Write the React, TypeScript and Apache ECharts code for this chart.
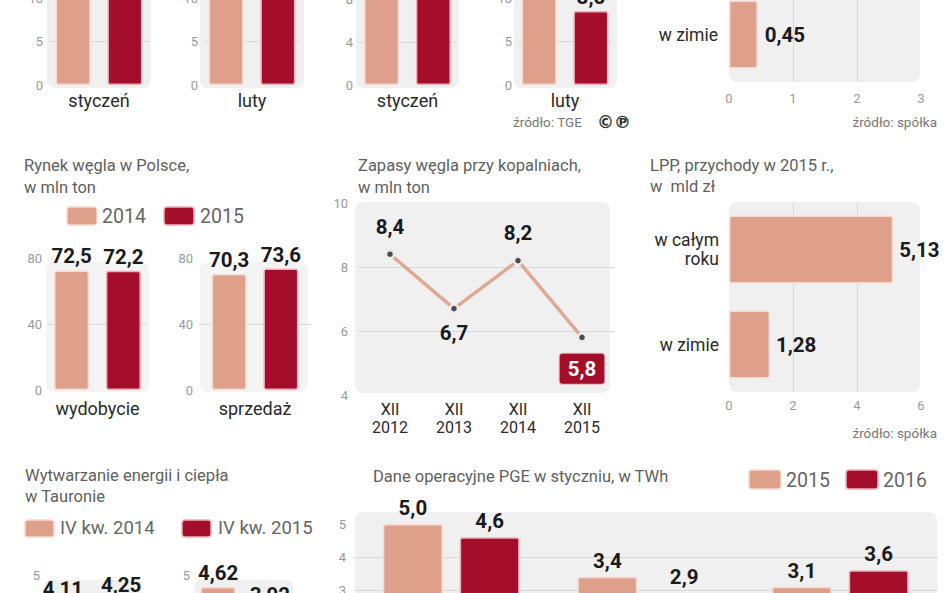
import React, { useEffect, useRef } from "react";
import * as echarts from "echarts";

// ---------- data ----------
// top-left panel (values above the visible area are estimated)
const tlCats = ["styczeń", "luty"];
const tlPrev = [12.6, 12.2];
const tlCurr = [13.4, 12.8];

// top-middle panel
const tmCats = ["styczeń", "luty"];
const tmPrev = [9.8, 12.1];
const tmCurr = [10.6, 8.5];

// top-right panel
const trCats = ["w zimie"];
const trValues = [0.45];

// Rynek węgla w Polsce, w mln ton
const coalCats = ["wydobycie", "sprzedaż"];
const coalYears = ["2014", "2015"];
const coal2014 = [72.5, 70.3];
const coal2015 = [72.2, 73.6];

// Zapasy węgla przy kopalniach, w mln ton
const stockCats = ["XII\n2012", "XII\n2013", "XII\n2014", "XII\n2015"];
const stockValues = [8.4, 6.7, 8.2, 5.8];

// LPP, przychody w 2015 r., w mld zł
const lppCats = ["w całym\nroku", "w zimie"];
const lppValues = [5.13, 1.28];

// Wytwarzanie energii i ciepła w Tauronie
const tauronSeries = ["IV kw. 2014", "IV kw. 2015"];
const tauronCats = ["a", "b"];
const tauron2014 = [4.11, 4.62];
const tauron2015 = [4.25, 3.92];

// Dane operacyjne PGE w styczniu, w TWh
const pgeYears = ["2015", "2016"];
const pgeCats = ["a", "b", "c"];
const pge2015 = [5.0, 3.4, 3.1];
const pge2016 = [4.6, 2.9, 3.6];

// ---------- styles ----------
const SANS = 'Roboto, "Noto Sans", "DejaVu Sans", sans-serif';
const BOLD = 'Roboto, "Noto Sans", sans-serif';
const LIGHT = "#dea08a";
const DARK = "#a50e2a";
const LIGHT_BORDER = "#f6d9cf";
const DARK_BORDER = "#ebb0b8";
const PANEL = "#f0f0f1";
const GRID_LINE = "#d9d9d9";
const TICK = "#9a9a9a";
const CAT = "#2a2a2a";
const VAL = "#1a1a1a";
const TITLE = "#5f5f5f";
const VAL_SIZE = 20.5;

const fmt = (v: number, d: number) => v.toFixed(d).replace(".", ",");

function splitColors(n: number) {
  const arr: string[] = [];
  for (let k = 0; k < n; k++) arr.push(k === 0 || k === n - 1 ? "rgba(0,0,0,0)" : GRID_LINE);
  return arr;
}

function buildOption() {
  const grids: any[] = [];
  const xAxes: any[] = [];
  const yAxes: any[] = [];
  const series: any[] = [];

  const gridBox = (left: number, top: number, width: number, height: number) => ({
    left, top, width, height, containLabel: false, outerBoundsMode: "none",
  });

  const barLabel = (dec: number, show: boolean, pos = "top", dist = 3) => ({
    show,
    position: pos,
    distance: dist,
    fontFamily: BOLD,
    fontWeight: "bold",
    fontSize: VAL_SIZE,
    lineHeight: 22,
    color: VAL,
    formatter: (p: any) => fmt(p.value, dec),
  });

  function addV(g: {
    left: number; width: number; top: number; height: number; max: number; interval: number;
    cat: string; showCat: boolean; catMargin: number; a: number; b: number; dec: number; gap: string;
    names: string[]; showLabel: boolean;
  }) {
    const i = grids.length;
    grids.push(gridBox(g.left, g.top, g.width, g.height));
    xAxes.push({
      type: "category", gridIndex: i, data: [g.cat],
      axisLine: { show: false }, axisTick: { show: false },
      axisLabel: { show: g.showCat, margin: g.catMargin, fontSize: 18, color: CAT, fontFamily: SANS },
    });
    const n = Math.round(g.max / g.interval) + 1;
    yAxes.push({
      type: "value", gridIndex: i, min: 0, max: g.max, interval: g.interval,
      axisLine: { show: false }, axisTick: { show: false },
      axisLabel: { margin: 6, fontSize: 13, color: TICK, fontFamily: SANS },
      splitLine: { show: true, lineStyle: { color: splitColors(n), width: 1 } },
    });
    series.push({
      type: "bar", name: g.names[0], xAxisIndex: i, yAxisIndex: i, data: [g.a],
      barWidth: 35, barGap: g.gap,
      itemStyle: { color: LIGHT, borderColor: LIGHT_BORDER, borderWidth: 1.5, borderRadius: 2 },
      label: barLabel(g.dec, g.showLabel),
    });
    series.push({
      type: "bar", name: g.names[1], xAxisIndex: i, yAxisIndex: i, data: [g.b],
      barWidth: 35, barGap: g.gap,
      itemStyle: { color: DARK, borderColor: DARK_BORDER, borderWidth: 1.5, borderRadius: 2 },
      label: barLabel(g.dec, g.showLabel),
    });
  }

  // top-left
  addV({ left: 49, width: 100, top: -45.5, height: 130.5, max: 15, interval: 5, cat: tlCats[0], showCat: true, catMargin: 6, a: tlPrev[0], b: tlCurr[0], dec: 1, gap: "48%", names: ["poprzedni", "bieżący"], showLabel: true });
  addV({ left: 204, width: 96, top: -45.5, height: 130.5, max: 15, interval: 5, cat: tlCats[1], showCat: true, catMargin: 6, a: tlPrev[1], b: tlCurr[1], dec: 1, gap: "48%", names: ["poprzedni", "bieżący"], showLabel: true });
  // top-middle
  addV({ left: 359, width: 97, top: -44, height: 129, max: 12, interval: 4, cat: tmCats[0], showCat: true, catMargin: 6, a: tmPrev[0], b: tmCurr[0], dec: 1, gap: "48%", names: ["poprzedni", "bieżący"], showLabel: true });
  addV({ left: 518, width: 94, top: -45.5, height: 130.5, max: 15, interval: 5, cat: tmCats[1], showCat: true, catMargin: 6, a: tmPrev[1], b: tmCurr[1], dec: 1, gap: "48%", names: ["poprzedni", "bieżący"], showLabel: true });
  // coal market
  addV({ left: 48, width: 99, top: 258, height: 132, max: 80, interval: 40, cat: coalCats[0], showCat: true, catMargin: 9, a: coal2014[0], b: coal2015[0], dec: 1, gap: "48%", names: coalYears, showLabel: true });
  addV({ left: 199, width: 112, top: 258, height: 132, max: 80, interval: 40, cat: coalCats[1], showCat: true, catMargin: 9, a: coal2014[1], b: coal2015[1], dec: 1, gap: "48%", names: coalYears, showLabel: true });
  // Tauron
  addV({ left: 46, width: 92, top: 575, height: 158, max: 5, interval: 5, cat: tauronCats[0], showCat: false, catMargin: 6, a: tauron2014[0], b: tauron2015[0], dec: 2, gap: "66%", names: tauronSeries, showLabel: true });
  addV({ left: 196, width: 96, top: 575, height: 158, max: 5, interval: 5, cat: tauronCats[1], showCat: false, catMargin: 6, a: tauron2014[1], b: tauron2015[1], dec: 2, gap: "48%", names: tauronSeries, showLabel: true });

  // top-right horizontal bar
  {
    const i = grids.length;
    grids.push(gridBox(729, -13, 192, 95));
    xAxes.push({
      type: "value", gridIndex: i, min: 0, max: 3, interval: 1,
      axisLine: { show: false }, axisTick: { show: false },
      axisLabel: { margin: 10, fontSize: 13, color: TICK, fontFamily: SANS },
      splitLine: { show: true, lineStyle: { color: splitColors(4) } },
    });
    yAxes.push({
      type: "category", gridIndex: i, data: trCats, inverse: true,
      axisLine: { show: false }, axisTick: { show: false },
      axisLabel: { margin: 11, fontSize: 17.5, color: CAT, fontFamily: SANS, lineHeight: 19 },
    });
    series.push({
      type: "bar", name: "przychody", xAxisIndex: i, yAxisIndex: i, data: trValues, barWidth: 68,
      itemStyle: { color: LIGHT, borderColor: LIGHT_BORDER, borderWidth: 1.5, borderRadius: 2 },
      label: barLabel(2, true, "right", 7),
    });
  }

  // LPP horizontal bars
  {
    const i = grids.length;
    grids.push(gridBox(729, 202, 192, 190));
    xAxes.push({
      type: "value", gridIndex: i, min: 0, max: 6, interval: 2,
      axisLine: { show: false }, axisTick: { show: false },
      axisLabel: { margin: 7, fontSize: 13, color: TICK, fontFamily: SANS },
      splitLine: { show: true, lineStyle: { color: splitColors(4) } },
    });
    yAxes.push({
      type: "category", gridIndex: i, data: lppCats, inverse: true,
      axisLine: { show: false }, axisTick: { show: false },
      axisLabel: { margin: 10, fontSize: 17.5, color: CAT, fontFamily: SANS, lineHeight: 19 },
    });
    series.push({
      type: "bar", name: "LPP", xAxisIndex: i, yAxisIndex: i, data: lppValues, barWidth: 68,
      itemStyle: { color: LIGHT, borderColor: LIGHT_BORDER, borderWidth: 1.5, borderRadius: 2 },
      label: barLabel(2, true, "right", 6),
    });
  }

  // stocks line
  {
    const i = grids.length;
    grids.push(gridBox(358, 203, 256, 192));
    xAxes.push({
      type: "category", gridIndex: i, data: stockCats, boundaryGap: true,
      axisLine: { show: false }, axisTick: { show: false },
      axisLabel: { margin: 5, fontSize: 16, lineHeight: 18, color: CAT, fontFamily: SANS },
    });
    yAxes.push({
      type: "value", gridIndex: i, min: 4, max: 10, interval: 2,
      axisLine: { show: false }, axisTick: { show: false },
      axisLabel: { margin: 10, fontSize: 13, color: TICK, fontFamily: SANS },
      splitLine: { show: true, lineStyle: { color: splitColors(4) } },
    });
    const lbl = (pos: string, dist: number) => ({
      show: true, position: pos, distance: dist, fontFamily: BOLD, fontWeight: "bold",
      fontSize: VAL_SIZE, lineHeight: 22, color: VAL, formatter: (p: any) => fmt(p.value, 1),
    });
    series.push({
      type: "line", name: "zapasy", xAxisIndex: i, yAxisIndex: i,
      data: stockValues.map((v, k) => {
        if (k === 3) {
          return {
            value: v,
            label: {
              show: true, position: "bottom", distance: 11, fontFamily: BOLD, fontWeight: "bold",
              fontSize: VAL_SIZE, lineHeight: 22, color: "#ffffff", backgroundColor: DARK,
              borderColor: DARK_BORDER, borderWidth: 1, borderRadius: 3, padding: [4, 8],
              formatter: (p: any) => fmt(p.value, 1),
            },
          };
        }
        return { value: v, label: k === 1 ? lbl("bottom", 8) : lbl("top", 11) };
      }),
      symbol: "circle", symbolSize: 8,
      lineStyle: { color: "#dfa892", width: 3.5 },
      itemStyle: { color: "#4a4a4a", borderColor: "#ececec", borderWidth: 2.5 },
    });
  }

  // PGE bars
  {
    const i = grids.length;
    grids.push(gridBox(354, 524, 583.5, 165));
    xAxes.push({
      type: "category", gridIndex: i, data: pgeCats,
      axisLine: { show: false }, axisTick: { show: false }, axisLabel: { show: false },
    });
    yAxes.push({
      type: "value", gridIndex: i, min: 0, max: 5, interval: 1,
      axisLine: { show: false }, axisTick: { show: false },
      axisLabel: { margin: 8, fontSize: 13, color: TICK, fontFamily: SANS },
      splitLine: { show: true, lineStyle: { color: splitColors(6) } },
    });
    series.push({
      type: "bar", name: pgeYears[0], xAxisIndex: i, yAxisIndex: i, data: pge2015, barWidth: 60, barGap: "28%",
      itemStyle: { color: LIGHT, borderColor: LIGHT_BORDER, borderWidth: 1.5, borderRadius: 2 },
      label: barLabel(1, true, "top", 5),
    });
    series.push({
      type: "bar", name: pgeYears[1], xAxisIndex: i, yAxisIndex: i, data: pge2016, barWidth: 60, barGap: "28%",
      itemStyle: { color: DARK, borderColor: DARK_BORDER, borderWidth: 1.5, borderRadius: 2 },
      label: barLabel(1, true, "top", 5),
    });
  }

  // ---------- graphics ----------
  const g: any[] = [];
  const panel = (x: number, y: number, w: number, h: number, fill = PANEL) =>
    g.push({ type: "rect", z: -1, shape: { x, y, width: w, height: h, r: 8 }, style: { fill } });
  const text = (t: string, x: number, y: number, size: number, fill: string, align = "left", family = SANS, weight = "normal") =>
    g.push({
      type: "text", x, y, z: 5,
      style: { text: t, fill, fontSize: size, fontFamily: family, fontWeight: weight, textAlign: align, textVerticalAlign: "middle" },
    });
  const swatch = (x: number, y: number, w: number, h: number, color: string, border: string) =>
    g.push({ type: "rect", z: 5, shape: { x, y, width: w, height: h, r: 3 }, style: { fill: color, stroke: border, lineWidth: 1.5 } });

  // panels
  panel(47, -20, 104, 108);
  panel(200, -20, 104, 108);
  panel(356, -20, 103, 108);
  panel(514, -20, 103, 108);
  panel(729, -20, 191, 102);
  panel(46, 262, 103, 130, "#f4f4f4");
  panel(200, 262, 108, 130, "#f4f4f4");
  panel(355, 202, 255, 191);
  panel(729, 202, 191, 190);
  panel(44, 580, 98, 40);
  panel(194, 580, 100, 40);
  panel(355, 512, 582, 100);

  // titles
  text("Rynek węgla w Polsce,", 24, 165, 16.5, TITLE);
  text("w mln ton", 24, 187, 16.5, TITLE);
  text("Zapasy węgla przy kopalniach,", 358, 165, 16.5, TITLE);
  text("w mln ton", 358, 187, 16.5, TITLE);
  text("LPP, przychody w 2015 r.,", 650, 165, 16.5, TITLE);
  text("w  mld zł", 650, 186, 16.5, TITLE);
  text("Wytwarzanie energii i ciepła", 25, 475, 16.5, TITLE);
  text("w Tauronie", 25, 496, 16.5, TITLE);
  text("Dane operacyjne PGE w styczniu, w TWh", 373, 476, 16.5, TITLE);

  // legends
  swatch(67, 207, 30, 18, LIGHT, LIGHT_BORDER);
  text(coalYears[0], 102, 216, 19.5, "#666");
  swatch(164, 207, 30, 18, DARK, DARK_BORDER);
  text(coalYears[1], 200, 216, 19.5, "#666");

  swatch(25, 520, 29, 17, LIGHT, LIGHT_BORDER);
  text(tauronSeries[0], 60, 528, 18.5, "#666");
  swatch(182, 520, 29, 17, DARK, DARK_BORDER);
  text(tauronSeries[1], 218, 528, 18.5, "#666");

  swatch(749, 470, 32, 19, LIGHT, LIGHT_BORDER);
  text(pgeYears[0], 786, 480, 19.5, "#666");
  swatch(846, 470, 32, 19, DARK, DARK_BORDER);
  text(pgeYears[1], 883, 480, 19.5, "#666");

  // sources
  text("źródło: TGE", 513, 122, 13.5, "#777");
  text("©℗", 597, 122, 17, "#333", "left", '"DejaVu Sans", sans-serif', "bold");
  text("źródło: spółka", 937, 122, 13.5, "#777", "right");
  text("źródło: spółka", 937, 433, 13.5, "#777", "right");

  return {
    animation: false,
    backgroundColor: "#ffffff",
    grid: grids,
    xAxis: xAxes,
    yAxis: yAxes,
    series,
    graphic: g,
  };
}

export default function App() {
  const ref = useRef<HTMLDivElement>(null);
  useEffect(() => {
    if (!ref.current) return;
    const chart = echarts.init(ref.current, undefined, { renderer: "svg" });
    chart.setOption(buildOption() as any);
    return () => chart.dispose();
  }, []);
  return (
    <div
      ref={ref}
      style={{ position: "absolute", left: 0, top: 0, width: 948, height: 593, background: "#fff" }}
    />
  );
}
